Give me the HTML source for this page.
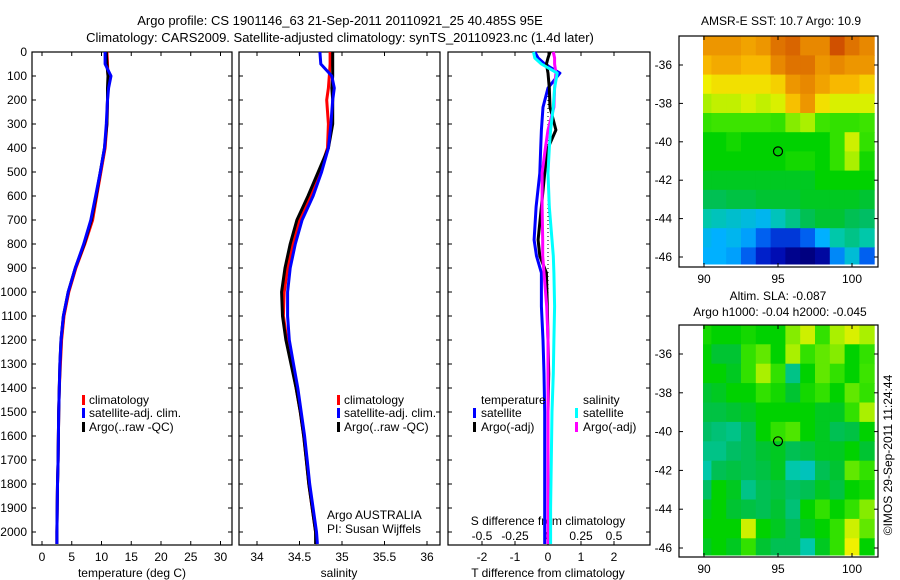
<!DOCTYPE html>
<html><head><meta charset="utf-8"><style>
body{margin:0;background:#fff;}
svg{display:block;font-family:"Liberation Sans",sans-serif;font-size:12px;}
</style></head><body>
<svg id="s" width="900" height="580" viewBox="0 0 900 580" xmlns="http://www.w3.org/2000/svg">
<text x="340" y="25" text-anchor="middle" font-size="13">Argo profile: CS 1901146_63 21-Sep-2011 20110921_25 40.485S 95E</text>
<text x="340" y="42" text-anchor="middle" font-size="13">Climatology: CARS2009. Satellite-adjusted climatology: synTS_20110923.nc (1.4d later)</text>
<text x="781" y="25" text-anchor="middle">AMSR-E SST: 10.7 Argo: 10.9</text>
<text x="778" y="300" text-anchor="middle">Altim. SLA: -0.087</text>
<text x="780" y="316" text-anchor="middle">Argo h1000: -0.04 h2000: -0.045</text>
<text transform="translate(892,455) rotate(-90)" text-anchor="middle">©IMOS 29-Sep-2011 11:24:44</text>
<g id="g"></g>
</svg>
<script>
// ---- data ----
const depthTicks=[0,100,200,300,400,500,600,700,800,900,1000,1100,1200,1300,1400,1500,1600,1700,1800,1900,2000];
const profDepths=[0,50,100,150,200,300,400,500,600,700,800,900,1000,1100,1200,1300,1400,1500,1600,1700,1800,1900,2000,2050];
const tempClim=[10.9,11.0,11.1,11.1,11.0,10.9,10.6,9.9,9.2,8.5,7.2,5.7,4.5,3.7,3.3,3.1,2.9,2.8,2.75,2.7,2.6,2.55,2.5,2.5];
const tempSat=[10.6,10.6,11.6,11.2,11.0,10.8,10.5,9.8,9.0,8.2,7.0,5.6,4.4,3.6,3.2,3.0,2.9,2.8,2.75,2.7,2.6,2.55,2.5,2.5];
const tempArgo=[10.8,10.9,11.1,11.0,11.0,10.9,10.5,9.8,9.1,8.3,7.1,5.6,4.4,3.6,3.2,3.0,2.9,2.8,2.75,2.7,2.6,2.55,2.5,2.5];
const salClim=[34.86,34.86,34.85,34.84,34.82,34.84,34.83,34.74,34.63,34.5,34.42,34.36,34.32,34.31,34.35,34.41,34.46,34.51,34.55,34.58,34.61,34.65,34.69,34.70];
const salSat=[34.74,34.75,34.88,34.91,34.89,34.87,34.84,34.76,34.66,34.53,34.45,34.39,34.36,34.36,34.38,34.43,34.48,34.52,34.56,34.59,34.62,34.66,34.70,34.71];
const salArgo=[34.89,34.89,34.89,34.88,34.89,34.89,34.84,34.72,34.6,34.47,34.39,34.33,34.29,34.30,34.34,34.40,34.46,34.51,34.55,34.58,34.61,34.65,34.69,34.69];
const diffDepths=[0,25,50,88,150,230,325,400,505,645,783,850,920,1060,1200,1340,1500,1700,1900,2050];
const dTSat=[-0.4,-0.3,-0.1,0.36,0.0,-0.15,-0.2,-0.22,-0.25,-0.36,-0.42,-0.35,-0.2,-0.2,-0.15,-0.12,-0.1,-0.1,-0.1,-0.1];
const dTArgo=[0.06,0.0,-0.05,0.0,0.04,0.06,0.24,0.0,-0.1,-0.2,-0.3,-0.25,-0.05,-0.02,0.0,0.02,0.0,0.0,0.0,0.0];
const dSSat=[-0.11,-0.1,-0.05,0.07,0.05,0.04,0.02,0.01,0.0,0.01,0.03,0.04,0.045,0.05,0.045,0.04,0.03,0.025,0.02,0.02];
const dSArgo=[0.04,0.05,0.05,0.06,0.05,0.045,0.0,-0.02,-0.045,-0.045,-0.04,-0.04,-0.03,-0.01,0.0,0.0,0.0,0.0,0.0,0.0];
const tempTicks=[0,5,10,15,20,25,30];
const salTicks=[34,34.5,35,35.5,36];
const dTTicks=[-2,-1,0,1,2];
const dSTicks=[-0.5,-0.25,0,0.25,0.5];
const dSTickLabels=["-0.5","-0.25","0","0.25","0.5"];
const latTicks=[-36,-38,-40,-42,-44,-46];
const lonTicks=[90,95,100];
const gridLats=[-35,-36,-37,-38,-39,-40,-41,-42,-43,-44,-45,-46];
const gridLons=[90,91,92,93,94,95,96,97,98,99,100,101];
const sstGrid=[
[12.0,12.0,12.0,11.9,12.0,12.25,12.35,12.1,12.1,12.5,12.25,12.1],
[11.75,11.85,11.85,11.75,11.75,12.1,12.25,12.25,12.0,12.1,12.0,12.0],
[11.4,11.5,11.5,11.5,11.5,11.6,12.0,12.1,11.9,11.75,11.75,11.6],
[11.1,11.2,11.2,11.3,11.2,11.3,11.7,12.0,11.5,11.3,11.3,11.3],
[10.75,10.8,10.8,10.8,10.8,10.75,11.0,11.1,10.8,10.75,10.75,10.8],
[10.5,10.5,10.6,10.5,10.5,10.5,10.5,10.5,10.5,10.75,11.25,10.75],
[10.5,10.5,10.5,10.5,10.5,10.5,10.6,10.6,10.5,10.75,11.1,10.6],
[10.4,10.4,10.4,10.4,10.4,10.4,10.4,10.4,10.5,10.5,10.5,10.5],
[10.25,10.25,10.3,10.3,10.35,10.35,10.35,10.4,10.4,10.4,10.4,10.35],
[10.0,9.9,9.8,9.7,9.6,9.9,10.1,10.25,10.35,10.35,10.25,10.2],
[9.6,9.5,9.6,9.4,9.0,8.75,8.75,9.0,9.5,10.0,10.1,10.0],
[9.5,9.5,9.4,9.0,8.6,8.4,8.1,8.0,8.25,9.25,9.75,9.0]];
const slaGrid=[
[0.016,0,0,0.016,0,0,0.08,0.12,0.04,0.096,0.128,0.096],
[0,-0.024,-0.024,0.04,0.064,0,0.096,0.04,0.064,0.08,0,0.04],
[0,0,-0.016,0.04,0.096,0.04,-0.064,0,0.064,0.04,0,0.048],
[-0.024,-0.016,0,0,0.04,0.016,-0.024,0.016,0.04,0,0.064,0.04],
[-0.032,-0.032,-0.024,-0.016,0,0,0,0,-0.016,-0.016,0.04,0.096],
[-0.048,-0.056,-0.064,-0.04,0,0.04,0.056,0,-0.016,-0.04,-0.032,0],
[-0.064,-0.064,-0.048,-0.04,-0.024,-0.016,-0.04,-0.032,-0.016,-0.016,0,-0.024],
[-0.08,-0.04,-0.032,-0.04,-0.032,-0.016,-0.08,-0.096,-0.04,-0.024,0.064,0.04],
[-0.048,0,-0.016,-0.064,-0.04,-0.032,-0.048,-0.04,-0.016,-0.032,0,0.016],
[-0.016,0,-0.024,-0.032,-0.04,-0.024,-0.056,0,0.04,0,0.04,0.08],
[0,0,0,0.12,0,-0.016,-0.04,-0.016,0,0.04,0.12,0.064],
[-0.016,0,-0.016,0.04,-0.024,-0.04,-0.04,-0.08,-0.016,0.04,0.144,0]];
const argoLon=95, argoLat=-40.5;

// ---- helpers ----
const NS="http://www.w3.org/2000/svg";
const G=document.getElementById('g');
function mk(tag,attrs,parent){const e=document.createElementNS(NS,tag);for(const k in attrs)e.setAttribute(k,attrs[k]);(parent||G).appendChild(e);return e;}
const Y0=52, Y1=545;
const yD=d=>Y0+d*0.24;
const panels=[
 {x0:32,x1:232,f:v=>42+v*5.95,name:'temperature-panel'},
 {x0:239,x1:440,f:v=>257+(v-34)*85,name:'salinity-panel'},
 {x0:448,x1:650,f:v=>548+v*33,name:'difference-panel'}];
const fS=v=>548+v*132;

function axesBox(x0,x1,y0,y1,name){
 const r=mk('rect',{x:x0,y:y0,width:x1-x0,height:y1-y0,fill:'none',stroke:'#000','stroke-width':1.2});
 
 
}
function line(x1,y1,x2,y2,name){const l=mk('line',{x1,y1,x2,y2,stroke:'#000','stroke-width':1});
 
 }
function txt(x,y,s,anchor,name,size){const t=mk('text',{x,y,'text-anchor':anchor||'middle'});if(size)t.setAttribute('font-size',size);t.textContent=s;
 
 return t;}
function path(xs,ds,fx,color,name,w,dash){
 let d='';xs.forEach((v,i)=>{d+=(i?'L':'M')+fx(v).toFixed(1)+','+yD(ds[i]).toFixed(1);});
 const p=mk('path',{d,fill:'none',stroke:color,'stroke-width':w||3,'stroke-linejoin':'round'});
 if(dash)p.setAttribute('stroke-dasharray',dash);
 
 
}
function legendMark(x,y,color,name){const r=mk('rect',{x,y:y-9,width:3,height:10,fill:color});
 
 }

// ---- profile panels ----
panels.forEach(p=>{
 axesBox(p.x0,p.x1,Y0,Y1,p.name+'-frame');
 depthTicks.forEach(d=>{line(p.x0,yD(d),p.x0+4,yD(d),'depth-tick');line(p.x1-4,yD(d),p.x1,yD(d),'depth-tick');});
});
depthTicks.forEach(d=>txt(27,yD(d)+4,String(d),'end','depth-tick-label'));
tempTicks.forEach(v=>{const x=panels[0].f(v);line(x,Y1,x,Y1-4,'temp-tick');line(x,Y0,x,Y0+4,'temp-tick');txt(x,561,String(v),'middle','temp-tick-label');});
salTicks.forEach(v=>{const x=panels[1].f(v);line(x,Y1,x,Y1-4,'sal-tick');line(x,Y0,x,Y0+4,'sal-tick');txt(x,561,String(v),'middle','sal-tick-label');});
dTTicks.forEach(v=>{const x=panels[2].f(v);line(x,Y1,x,Y1-4,'dt-tick');line(x,Y0,x,Y0+4,'dt-tick');txt(x,561,String(v),'middle','dt-tick-label');});
dSTicks.forEach((v,i)=>txt(fS(v),540,dSTickLabels[i],'middle','ds-tick-label'));
txt(132,577,'temperature (deg C)','middle','temp-axis-title');
txt(339,577,'salinity','middle','sal-axis-title');
txt(548,577,'T difference from climatology','middle','dt-axis-title');
txt(548,525,'S difference from climatology','middle','ds-axis-title');

path(tempClim,profDepths,panels[0].f,'#f00','temp-clim-line');
path(tempArgo,profDepths,panels[0].f,'#000','temp-argo-line');
path(tempSat,profDepths,panels[0].f,'#00f','temp-sat-line');
path(salClim,profDepths,panels[1].f,'#f00','sal-clim-line');
path(salArgo,profDepths,panels[1].f,'#000','sal-argo-line');
path(salSat,profDepths,panels[1].f,'#00f','sal-sat-line');
path([0,0],[0,2050],panels[2].f,'#000','zero-line',1,'1,3');
path(dTSat,diffDepths,panels[2].f,'#00f','dt-sat-line');
path(dTArgo,diffDepths,panels[2].f,'#000','dt-argo-line');
path(dSArgo,diffDepths,fS,'#f0f','ds-argo-line');
path(dSSat,diffDepths,fS,'#0ff','ds-sat-line');

[[82,'temp'],[337,'sal']].forEach(([x,n])=>{
 legendMark(x,404,'#f00',n+'-legend-clim-mark');txt(x+7,404,'climatology','start',n+'-legend-clim');
 legendMark(x,417,'#00f',n+'-legend-sat-mark');txt(x+7,417,'satellite-adj. clim.','start',n+'-legend-sat');
 legendMark(x,431,'#000',n+'-legend-argo-mark');txt(x+7,431,'Argo(..raw -QC)','start',n+'-legend-argo');
});
txt(327,519,'Argo AUSTRALIA','start','argo-agency-label');
txt(327,533,'PI: Susan Wijffels','start','pi-label');
txt(481,404,'temperature','start','dt-legend-title');
legendMark(473,417,'#00f','dt-legend-sat-mark');txt(481,417,'satellite','start','dt-legend-sat');
legendMark(473,431,'#000','dt-legend-argo-mark');txt(481,431,'Argo(-adj)','start','dt-legend-argo');
txt(583,404,'salinity','start','ds-legend-title');
legendMark(575,417,'#0ff','ds-legend-sat-mark');txt(583,417,'satellite','start','ds-legend-sat');
legendMark(575,431,'#f0f','ds-legend-argo-mark');txt(583,431,'Argo(-adj)','start','ds-legend-argo');

// ---- maps ----
const stops=[[0,[0,0,128]],[0.1,[0,16,192]],[0.2,[0,96,240]],[0.3,[0,176,255]],[0.4,[0,200,170]],[0.44,[0,190,100]],[0.47,[0,196,50]],[0.5,[0,210,0]],[0.56,[60,228,0]],[0.62,[170,240,0]],[0.68,[240,240,0]],[0.75,[248,184,0]],[0.82,[232,136,0]],[0.9,[208,80,0]],[1,[176,32,0]]];
function cmap(t){t=Math.max(0,Math.min(1,t));for(let i=1;i<stops.length;i++){if(t<=stops[i][0]){const[a,c1]=stops[i-1],[b,c2]=stops[i];const f=(t-a)/(b-a);return 'rgb('+c1.map((c,j)=>Math.round(c+(c2[j]-c)*f)).join(',')+')';}}return 'rgb(176,32,0)';}
function drawMap(m){
 const fx=lon=>704+(lon-90)*14.8, fy=lat=>m.ylat36+(lat+36)*(-m.sy);
 const g=mk('g',{});
 
 
 m.grid.forEach((row,i)=>row.forEach((v,j)=>{
  const xa=Math.max(703,fx(gridLons[j]-0.5)), xb=Math.min(876,fx(gridLons[j]+0.5));
  const ya=Math.max(m.top,fy(gridLats[i]+0.5)), yb=Math.min(m.dataBottom,fy(gridLats[i]-0.5));
  const r=mk('rect',{x:xa,y:ya,width:xb-xa+0.5,height:yb-ya+0.5,fill:cmap((v-m.vmin)/(m.vmax-m.vmin))},g);
  
  
 }));
 const c=mk('circle',{cx:fx(argoLon),cy:fy(argoLat),r:4.5,fill:'none',stroke:'#000','stroke-width':1.2});
 
 
 axesBox(679,878,m.top,m.bottom,m.name+'-frame');
 latTicks.forEach(l=>{const y=fy(l);line(679,y,683,y,'lat-tick');line(874,y,878,y,'lat-tick');txt(672,y+4,String(l),'end','lat-tick-label');});
 lonTicks.forEach(l=>{const x=fx(l);line(x,m.bottom,x,m.bottom-4,'lon-tick');line(x,m.top,x,m.top+4,'lon-tick');txt(x,m.bottom+16,String(l),'middle','lon-tick-label');});
}
drawMap({name:'sst-map',grid:sstGrid,vmin:8,vmax:13,top:36,bottom:267,dataBottom:264,ylat36:65,sy:19.2});
drawMap({name:'sla-map',grid:slaGrid,vmin:-0.4,vmax:0.4,top:325,bottom:557,dataBottom:555,ylat36:354,sy:19.4});
</script>
</body></html>
